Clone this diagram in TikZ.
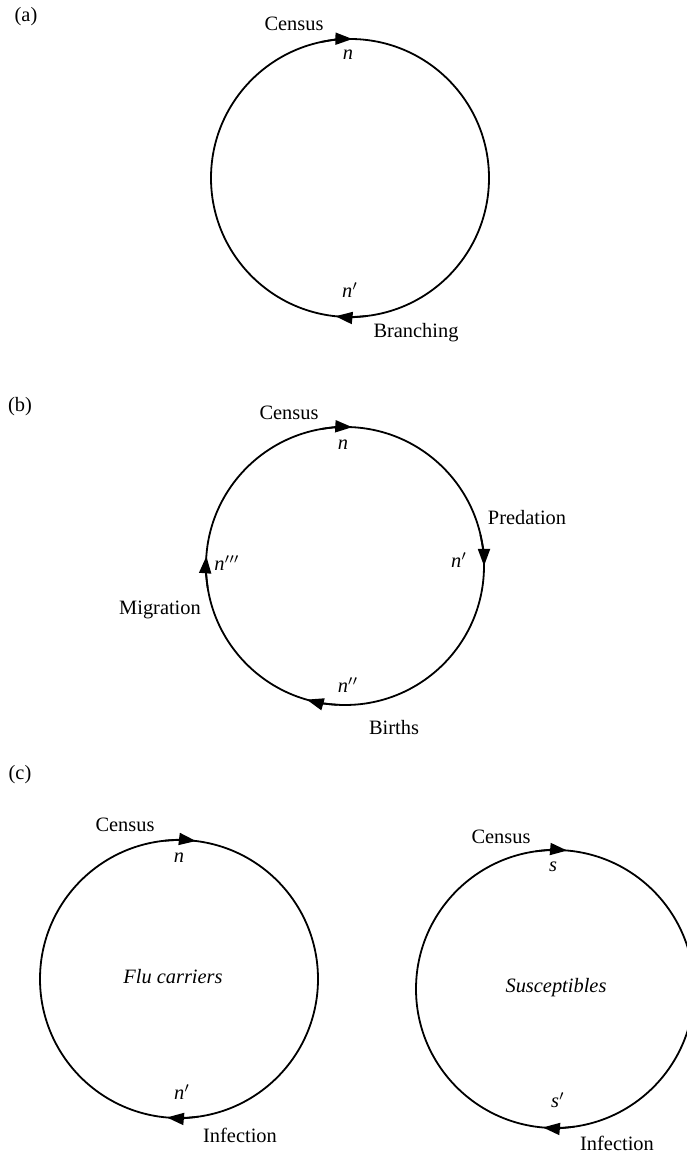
\documentclass[tikz,border=0pt]{standalone}
\usepackage{fontspec}
\setmainfont{Liberation Serif}
\usetikzlibrary{arrows.meta}
\begin{document}
\begin{tikzpicture}[x=0.5pt,y=0.5pt,
  cycle/.style={line width=0.9pt},
  tipmark/.style={line width=0.9pt,-{Triangle[length=8.5pt,width=6pt]}},
  lab/.style={font=\fontsize{10.2}{12}\selectfont, inner sep=0pt},
  var/.style={font=\fontsize{10.2}{12}\selectfont\itshape, inner sep=0pt}]
\useasboundingbox (0,0) rectangle (686,1156);

% (a) a single branching step between censuses
\coordinate (A) at (350,978);
\draw[cycle] (A) circle[radius=139];
\draw[tipmark] ([shift={(102:139)}]A) arc[start angle=102, end angle=89, radius=139];
\draw[tipmark] ([shift={(277:139)}]A) arc[start angle=277, end angle=264, radius=139];
\node[lab] (alabel) at (26,1139) {(a)};
\node[lab] (acensus) at (294,1132) {Census};
\node[var] (an) at (348,1101) {n};
\node[var] (anp) at (350,866) {n$'$};
\node[lab] (abranch) at (416,823) {Branching};

% (b) predation, births and migration within one year
\coordinate (B) at (345,590);
\draw[cycle] (B) circle[radius=139];
\draw[tipmark] ([shift={(100:139)}]B) arc[start angle=100, end angle=87, radius=139];
\draw[tipmark] ([shift={(13:139)}]B) arc[start angle=13, end angle=0, radius=139];
\draw[tipmark] ([shift={(267:139)}]B) arc[start angle=267, end angle=254, radius=139];
\draw[tipmark] ([shift={(189:139)}]B) arc[start angle=189, end angle=176, radius=139];
\node[lab] (blabel) at (20,749) {(b)};
\node[lab] (bcensus) at (289,743) {Census};
\node[var] (bn) at (343,711) {n};
\node[lab] (bpred) at (527,638) {Predation};
\node[var] (bnp) at (459,596) {n$'$};
\node[var] (bnppp) at (227,593) {n$'''$};
\node[lab] (bmig) at (160,546) {Migration};
\node[var] (bnpp) at (348,471) {n$''$};
\node[lab] (bbirth) at (394,428) {Births};

% (c) two coupled populations
\coordinate (C) at (179,177);
\draw[cycle] (C) circle[radius=139];
\draw[tipmark] ([shift={(96:139)}]C) arc[start angle=96, end angle=83, radius=139];
\draw[tipmark] ([shift={(278:139)}]C) arc[start angle=278, end angle=265, radius=139];
\node[lab] (clabel) at (20,381) {(c)};
\node[lab] (ccensus) at (125,331) {Census};
\node[var] (cn) at (179,298) {n};
\node[var] (cflu) at (173,179) {Flu carriers};
\node[var] (cnp) at (182,64) {n$'$};
\node[lab] (cinf) at (240,21) {Infection};

\coordinate (D) at (555,167);
\draw[cycle] (D) circle[radius=139];
\draw[tipmark] ([shift={(98:139)}]D) arc[start angle=98, end angle=85, radius=139];
\draw[tipmark] ([shift={(278:139)}]D) arc[start angle=278, end angle=265, radius=139];
\node[lab] (dcensus) at (501,319) {Census};
\node[var] (ds) at (553,289) {s};
\node[var] (dsus) at (556,168) {Susceptibles};
\node[var] (dsp) at (558,56) {s$'$};
\node[lab] (dinf) at (617,13) {Infection};
\end{tikzpicture}
\end{document}
